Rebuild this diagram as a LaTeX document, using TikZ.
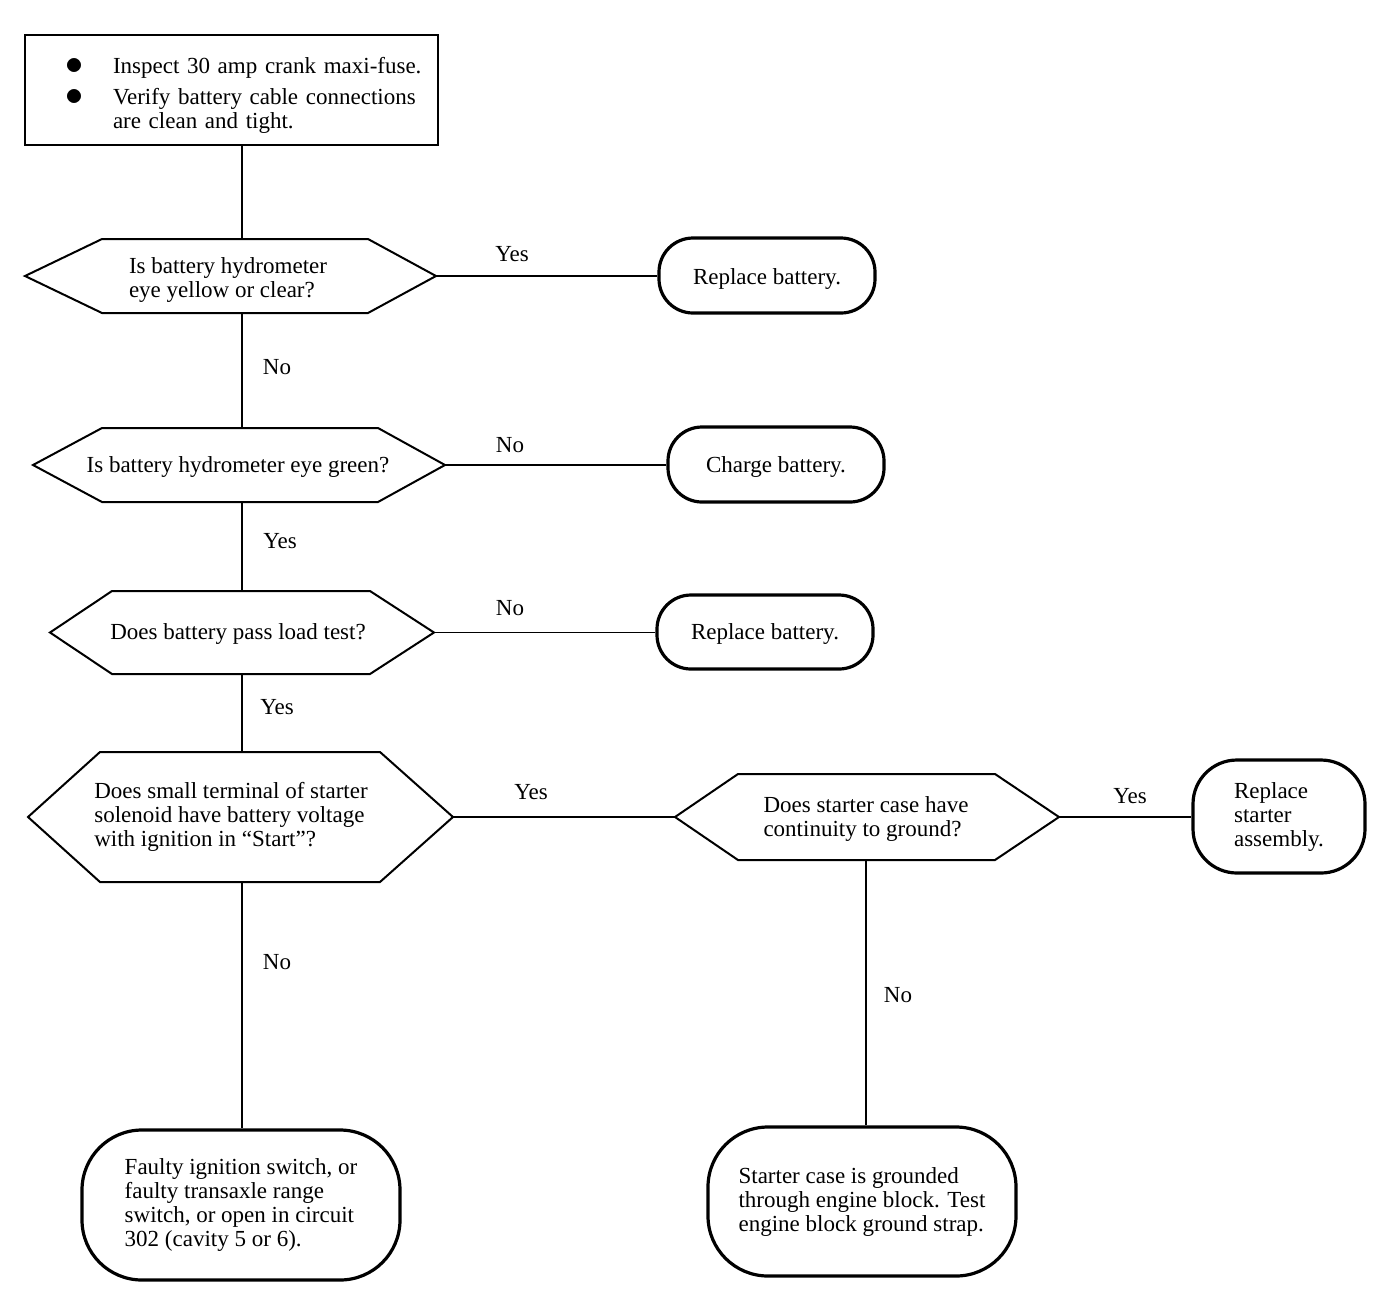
\documentclass[tikz,border=0pt]{standalone}
\usepackage{fontspec}
\setmainfont{Liberation Serif}
\usetikzlibrary{calc}
\newcommand\drawhex[7]{%
  \coordinate (#1L) at (#2,{(#6+#7)/2});
  \coordinate (#1R) at (#5,{(#6+#7)/2});
  \coordinate (#1TL) at (#3,#6);
  \coordinate (#1TR) at (#4,#6);
  \coordinate (#1BL) at (#3,#7);
  \coordinate (#1BR) at (#4,#7);
  \draw[hexline] (#1L) -- (#1TL) -- (#1TR) -- (#1R) -- (#1BR) -- (#1BL) -- cycle;
}
\newcommand\bul{\raisebox{-0.5pt}{\scalebox{1.5}{$\bullet$}}}
\begin{document}
\begin{tikzpicture}[x=0.5pt,y=-0.5pt,
  every node/.style={font=\fontsize{11.5pt}{12pt}\selectfont, inner sep=0pt},
  hexline/.style={line width=1pt, line join=miter},
  term/.style={draw, line width=1.6pt, rectangle},
  conn/.style={line width=0.9pt},
  lbl/.style={}]
\useasboundingbox (0,0) rectangle (1392,1308);

% start box
\node[draw, line width=1pt, minimum height=55pt, text width=166.5pt, inner xsep=20pt, align=left] (box) at (231.5,90)
  {\raisebox{-3pt}[\height][\depth]{\begin{tabular}{@{}p{24pt}@{}l@{}}
   \bul & Inspect 30 amp crank maxi-fuse.\\[3.5pt]
   \bul & Verify battery cable connections\\
        & are clean and tight.
   \end{tabular}}};

% decisions
\drawhex{h1}{25}{102}{368}{436}{239}{313}
\drawhex{h2}{33}{102}{378}{445}{428}{502}
\drawhex{h3}{50}{112}{370}{434}{591}{674}
\drawhex{h4}{28}{100}{380}{453}{752}{882}
\drawhex{h5}{675}{738}{995}{1059}{774}{860}

\node[align=left] (q1) at (228,280) {Is battery hydrometer\\eye yellow or clear?};
\node (q2) at (238,467) {Is battery hydrometer eye green?};
\node (q3) at (238,634) {Does battery pass load test?};
\node[align=left] (q4) at (231,817) {Does small terminal of starter\\solenoid have battery voltage\\with ignition in “Start”?};
\node[align=left] (q5) at (866,819) {Does starter case have\\continuity to ground?};

% terminals
\node[term, minimum width=108pt, minimum height=37.5pt, rounded corners=17pt] (t1) at (767,275.5) {\raisebox{-1.5pt}[\height][\depth]{Replace battery.}};
\node[term, minimum width=108pt, minimum height=37.5pt, rounded corners=17pt] (t2) at (776,464.5) {\raisebox{-1pt}[\height][\depth]{Charge battery.}};
\node[term, minimum width=108pt, minimum height=37pt, rounded corners=17pt] (t3) at (765,632) {\raisebox{-1pt}[\height][\depth]{Replace battery.}};
\node[term, minimum width=86pt, minimum height=56.5pt, rounded corners=22pt, align=left] (t4) at (1279,816.5) {Replace\\starter\\assembly.};
\node[term, minimum width=159pt, minimum height=75pt, rounded corners=30pt, align=left] (t5) at (241,1205) {Faulty ignition switch, or\\faulty transaxle range\\switch, or open in circuit\\302 (cavity 5 or 6).};
\node[term, minimum width=154pt, minimum height=74.5pt, rounded corners=30pt, align=left] (t6) at (862,1201.5) {Starter case is grounded\\through engine block. Test\\engine block ground strap.};

% connectors
\coordinate (trunk) at (242,0);
\coordinate (trunkb) at (866,0);
\draw[conn] (box.south -| trunk) -- (h1TL -| trunk);
\draw[conn] (h1BL -| trunk) -- (h2TL -| trunk);
\draw[conn] (h2BL -| trunk) -- (h3TL -| trunk);
\draw[conn] (h3BL -| trunk) -- (h4TL -| trunk);
\draw[conn] (h4BL -| trunk) -- (t5.north -| trunk);
\draw[conn] (h1R) -- (t1.west |- h1R);
\draw[conn] (h2R) -- (t2.west |- h2R);
\draw[conn] (h3R) -- (t3.west |- h3R);
\draw[conn] (h4R) -- (h5L);
\draw[conn] (h5R) -- (t4.west |- h5R);
\draw[conn] (h5BL -| trunkb) -- (t6.north -| trunkb);

% labels
\node[lbl] (l1) at (512,254) {Yes};
\node[lbl] (l2) at (277,367) {No};
\node[lbl] (l3) at (510,445) {No};
\node[lbl] (l4) at (280,541) {Yes};
\node[lbl] (l5) at (510,608) {No};
\node[lbl] (l6) at (277,707) {Yes};
\node[lbl] (l7) at (531,792) {Yes};
\node[lbl] (l8) at (1130,796) {Yes};
\node[lbl] (l9) at (277,962) {No};
\node[lbl] (l10) at (898,995) {No};
\end{tikzpicture}
\end{document}
